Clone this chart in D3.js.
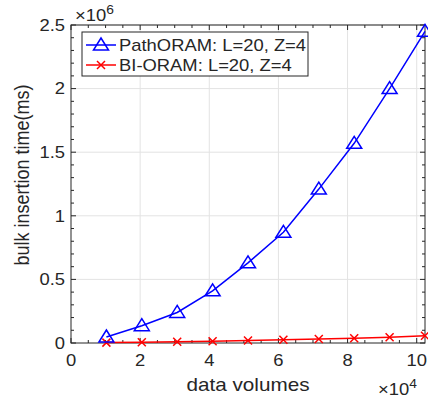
<!DOCTYPE html>
<html>
<head>
<meta charset="utf-8">
<script src="https://cdn.jsdelivr.net/npm/d3@7"></script>
<style>
  body { margin: 0; background: #fff; }
  text { font-family: "Liberation Sans", Arial, sans-serif; fill: #262626; }
</style>
</head>
<body>
<div id="chart"></div>
<script>
// data volumes (x 10^4) and bulk insertion time (x 10^6 ms)
const volumes = [1.024, 2.048, 3.072, 4.096, 5.12, 6.144, 7.168, 8.192, 9.216, 10.24];
const pathOram = [0.047, 0.136, 0.24, 0.41, 0.63, 0.87, 1.21, 1.57, 2.0, 2.45];
const biOram = [0.003, 0.006, 0.01, 0.014, 0.019, 0.025, 0.031, 0.037, 0.045, 0.057];
const xTicks = [0, 2, 4, 6, 8, 10];
const yTicks = [0, 0.5, 1, 1.5, 2, 2.5];
const seriesNames = ['PathORAM: L=20, Z=4', 'BI-ORAM: L=20, Z=4'];

const W = 428, H = 403;
const margin = { top: 25, right: 3, bottom: 60, left: 71 };
const iw = W - margin.left - margin.right;
const ih = H - margin.top - margin.bottom;
const SX = 1.15; // the figure is a bit wider than tall, text is stretched

const svg = d3.select('#chart').append('svg')
  .attr('width', W).attr('height', H);
const g = svg.append('g')
  .attr('transform', `translate(${margin.left},${margin.top})`);

const x = d3.scaleLinear().domain([0, 10.24]).range([0, iw]);
const y = d3.scaleLinear().domain([0, 2.5]).range([ih, 0]);

// Grid
g.append('g').selectAll('line').data(xTicks.slice(1))
  .join('line')
  .attr('x1', d => x(d)).attr('x2', d => x(d))
  .attr('y1', 0).attr('y2', ih)
  .attr('stroke', '#e3e3e3').attr('stroke-width', 1);
g.append('g').selectAll('line').data(yTicks.slice(1))
  .join('line')
  .attr('x1', 0).attr('x2', iw)
  .attr('y1', d => y(d)).attr('y2', d => y(d))
  .attr('stroke', '#e3e3e3').attr('stroke-width', 1);

// Box
g.append('rect')
  .attr('width', iw).attr('height', ih)
  .attr('fill', 'none').attr('stroke', '#262626').attr('stroke-width', 1);

// Ticks (inside), major and minor, on all four sides
const xMinor = d3.range(0, 10.24, 0.5);
const yMinor = d3.range(0, 2.501, 0.1);
const tickG = g.append('g').attr('stroke', '#262626').attr('stroke-width', 1);
xMinor.forEach(v => {
  const len = Math.abs(v % 2) < 1e-6 ? 5 : 3;
  tickG.append('line').attr('x1', x(v)).attr('x2', x(v)).attr('y1', ih).attr('y2', ih - len);
  tickG.append('line').attr('x1', x(v)).attr('x2', x(v)).attr('y1', 0).attr('y2', len);
});
yMinor.forEach(v => {
  const len = Math.abs((v * 10) % 5) < 1e-6 ? 5 : 3;
  tickG.append('line').attr('x1', 0).attr('x2', len).attr('y1', y(v)).attr('y2', y(v));
  tickG.append('line').attr('x1', iw).attr('x2', iw - len).attr('y1', y(v)).attr('y2', y(v));
});

// Tick labels
g.append('g').selectAll('text').data(xTicks)
  .join('text')
  .attr('transform', d => `translate(${x(d)},${ih + 23}) scale(${SX},1)`)
  .attr('text-anchor', 'middle').style('font-size', '16px')
  .text(d => d);
g.append('g').selectAll('text').data(yTicks)
  .join('text')
  .attr('transform', d => `translate(-6,${y(d)}) scale(${SX},1)`)
  .attr('dy', '0.36em')
  .attr('text-anchor', 'end').style('font-size', '16px')
  .text(d => d);

// Exponent labels
const e6 = svg.append('text')
  .attr('transform', `translate(75,21) scale(${SX},1)`).style('font-size', '16px');
e6.append('tspan').text('×10');
e6.append('tspan').attr('dy', -7).style('font-size', '12px').text('6');
const e4 = svg.append('text')
  .attr('transform', `translate(378,395) scale(${SX},1)`).style('font-size', '16px');
e4.append('tspan').text('×10');
e4.append('tspan').attr('dy', -7).style('font-size', '12px').text('4');

// Axis titles
svg.append('text')
  .attr('transform', `translate(${margin.left + iw / 2},391) scale(${SX},1)`)
  .attr('text-anchor', 'middle').style('font-size', '18px')
  .text('data volumes');
svg.append('text')
  .attr('transform', `translate(29,${margin.top + ih / 2 - 9}) scale(${SX},1) rotate(-90)`)
  .attr('text-anchor', 'middle').style('font-size', '18px')
  .text('bulk insertion time(ms)');

// Lines
const line = d3.line().x(d => x(d[0])).y(d => y(d[1]));
const pathData = volumes.map((v, i) => [v, pathOram[i]]);
const biData = volumes.map((v, i) => [v, biOram[i]]);

function drawTriangle(sel, cx, cy) {
  sel.append('path')
    .attr('d', 'M0,-7L7.5,5L-7.5,5Z')
    .attr('transform', `translate(${cx},${cy})`)
    .attr('fill', 'none').attr('stroke', '#0000ff').attr('stroke-width', 1.5);
}
function drawCross(sel, cx, cy) {
  sel.append('path')
    .attr('d', 'M-4,-4L4,4M-4,4L4,-4')
    .attr('transform', `translate(${cx},${cy})`)
    .attr('fill', 'none').attr('stroke', '#ff0000').attr('stroke-width', 1.5);
}

g.append('path').datum(biData)
  .attr('d', line).attr('fill', 'none')
  .attr('stroke', '#ff0000').attr('stroke-width', 1.5);
biData.forEach(d => drawCross(g, x(d[0]), y(d[1])));

g.append('path').datum(pathData)
  .attr('d', line).attr('fill', 'none')
  .attr('stroke', '#0000ff').attr('stroke-width', 1.5);
pathData.forEach(d => drawTriangle(g, x(d[0]), y(d[1])));

// Legend
const lg = svg.append('g').attr('transform', 'translate(82,32)');
lg.append('rect').attr('width', 226).attr('height', 44)
  .attr('fill', '#fff').attr('stroke', '#262626').attr('stroke-width', 1);
const colors = ['#0000ff', '#ff0000'];
seriesNames.forEach((name, i) => {
  const cy = 13 + i * 20;
  lg.append('line').attr('x1', 4).attr('x2', 34).attr('y1', cy).attr('y2', cy)
    .attr('stroke', colors[i]).attr('stroke-width', 1.5);
  if (i === 0) drawTriangle(lg, 19, cy);
  else drawCross(lg, 19, cy);
  lg.append('text')
    .attr('transform', `translate(37,${cy}) scale(${SX},1)`)
    .attr('dy', '0.36em')
    .style('font-size', '16px').text(name);
});
</script>
</body>
</html>
